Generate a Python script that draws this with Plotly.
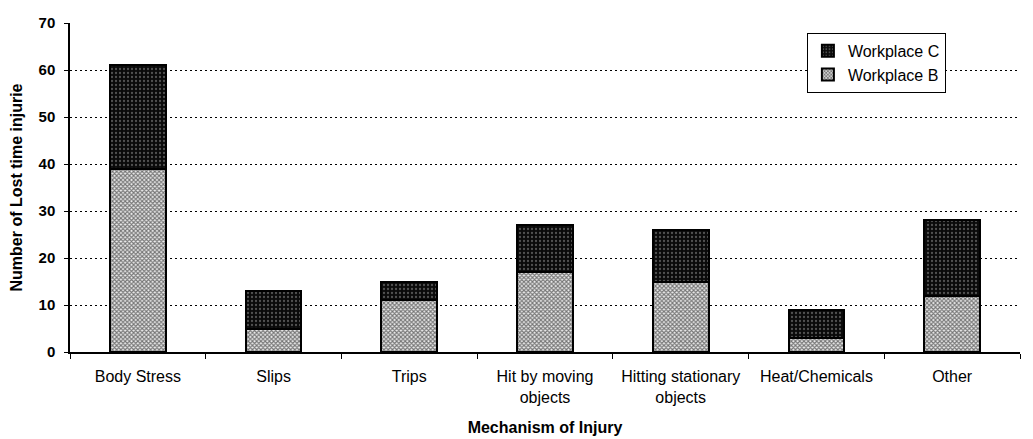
import plotly.graph_objects as go

categories = ["Body Stress", "Slips", "Trips", "Hit by moving objects",
              "Hitting stationary objects", "Heat/Chemicals", "Other"]
tick_labels = ["Body Stress", "Slips", "Trips", "Hit by moving<br>objects",
               "Hitting stationary<br>objects", "Heat/Chemicals", "Other"]
workplace_b = [39, 5, 11, 17, 15, 3, 12]
workplace_c = [22, 8, 4, 10, 11, 6, 16]

FONT = "Liberation Sans, Arial, sans-serif"

fig = go.Figure()
fig.add_trace(go.Bar(
    x=categories, y=workplace_b, name="Workplace B",
    marker=dict(color="#ffffff", line=dict(color="black", width=2),
                pattern=dict(shape="x", fgcolor="#000000", bgcolor="#ececec",
                             size=3, solidity=0.6)),
))
fig.add_trace(go.Bar(
    x=categories, y=workplace_c, name="Workplace C",
    marker=dict(color="#111111", line=dict(color="black", width=2),
                pattern=dict(shape=".", fgcolor="#999999", bgcolor="#0a0a0a",
                             size=4, solidity=0.25)),
))

fig.update_layout(
    barmode="stack",
    bargap=0.59,
    width=1025, height=431,
    margin=dict(l=62, r=13, t=15, b=87, autoexpand=False),
    paper_bgcolor="white", plot_bgcolor="white",
    font=dict(family=FONT, color="black", size=16),
    showlegend=True,
    legend=dict(x=0.922, y=0.97, xanchor="right", yanchor="top",
                traceorder="reversed", bordercolor="black", borderwidth=1,
                bgcolor="white", font=dict(size=16), itemwidth=30,
                tracegroupgap=0),
    xaxis=dict(
        tickmode="array", tickvals=categories, ticktext=tick_labels,
        tickson="boundaries", ticks="outside", ticklen=5, tickcolor="black",
        ticklabelstandoff=9,
        showline=True, linecolor="black", linewidth=1.5, showgrid=False,
        tickfont=dict(size=16), automargin=False,
        title=dict(text="<b>Mechanism of Injury</b>", font=dict(size=16), standoff=17),
    ),
    yaxis=dict(
        range=[0, 70], dtick=10, ticks="outside", ticklen=4, tickcolor="black",
        ticklabelstandoff=6,
        showline=True, linecolor="black", linewidth=1.5,
        showgrid=True, gridcolor="black", griddash="2px,3px", gridwidth=1,
        tickfont=dict(size=15, family="Liberation Sans, Arial, sans-serif", weight="bold"),
        title=dict(text="<b>Number of Lost time injurie</b>", font=dict(size=16), standoff=12),
        zeroline=False, automargin=False,
    ),
)

fig.write_html("out.html")
